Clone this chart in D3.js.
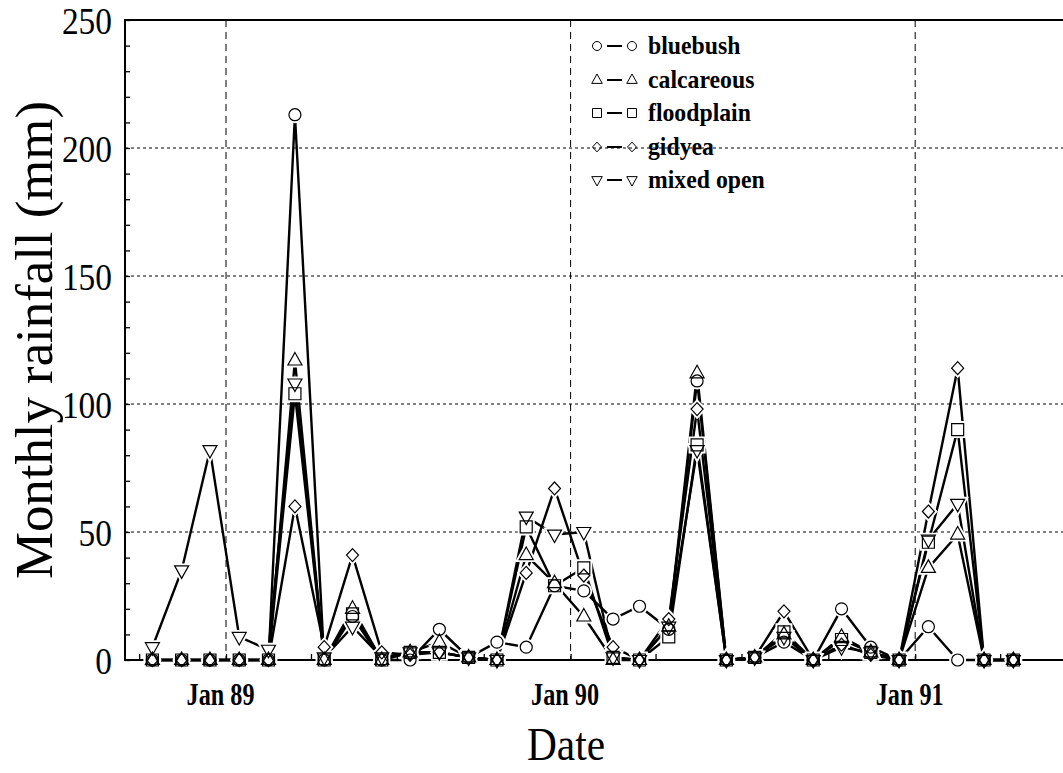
<!DOCTYPE html>
<html><head><meta charset="utf-8">
<script src="https://cdn.jsdelivr.net/npm/d3@7"></script>
<style>body{margin:0;background:#fff} svg{display:block}</style>
</head><body><svg id="c" width="1063" height="773"></svg>
<script>
const months = ["1988-10","1988-11","1988-12","1989-01","1989-02","1989-03","1989-04","1989-05","1989-06","1989-07","1989-08","1989-09",
  "1989-10","1989-11","1989-12","1990-01","1990-02","1990-03","1990-04","1990-05","1990-06","1990-07","1990-08","1990-09",
  "1990-10","1990-11","1990-12","1991-01","1991-02","1991-03","1991-04"];
const bluebush   = [0,0,0,0,0,213,0,17,0,0,12,1,7,5,29,27,16,21,12,109,0,1,7,0,20,5,0,13,0,0,0];
const calcareous = [0,0,0,0,0,117,0,20,0,3,7,1,0,41,30,17,0,0,13,112,0,1,10,0,9,3,0,36,49,0,0];
const floodplain = [0,0,0,0,0,104,0,18,0,3,3,1,0,52,29,36,1,0,9,84,0,1,11,0,8,3,0,46,90,0,0];
const gidyea     = [0,0,0,0,0,60,5,41,3,2,3,1,0,34,67,33,5,0,16,98,0,1,19,0,6,2,0,58,114,0,0];
const mixedOpen  = [5,35,82,9,4,108,1,13,1,3,3,1,0,56,49,50,1,0,13,82,0,1,9,0,5,3,0,47,61,0,0];
const seriesNames = ["bluebush","calcareous","floodplain","gidyea","mixed open"];
const seriesShapes = ["circle","triUp","square","diamond","triDown"];
const yTicks = [0,50,100,150,200,250];
const janTicks = ["1989-01","1990-01","1991-01"];
const janLabels = ["Jan 89","Jan 90","Jan 91"];

const series = [bluebush, calcareous, floodplain, gidyea, mixedOpen].map((v,i)=>({
  name: seriesNames[i], shape: seriesShapes[i], values: v
}));

const svg = d3.select("#c");
const parseM = d3.timeParse("%Y-%m");
const mid = s => d3.timeDay.offset(parseM(s), 14);
const L = 125, T = 20, B = 660, R = 1070;
const x = d3.scaleTime().domain([new Date(1988,8,16), new Date(1991,5,14)]).range([L, R]);
const y = d3.scaleLinear().domain([0,250]).range([B, T]);

function shapePath(kind, s) {
  switch(kind) {
    case "circle": { const r=6*s; return `M${r},0A${r},${r} 0 1,1 ${-r},0A${r},${r} 0 1,1 ${r},0Z`; }
    case "square": { const h=6*s; return `M${-h},${-h}H${h}V${h}H${-h}Z`; }
    case "diamond": { const h=6.5*s, w=6*s; return `M0,${-h}L${w},0L0,${h}L${-w},0Z`; }
    case "triUp": { return `M0,${-8*s}L${7*s},${4.5*s}L${-7*s},${4.5*s}Z`; }
    case "triDown": { return `M0,${8*s}L${7*s},${-4.5*s}L${-7*s},${-4.5*s}Z`; }
  }
}

// gridlines
const grid = svg.append("g");
grid.selectAll("line.h").data(yTicks.filter(v=>v>0 && v<250)).join("line")
  .attr("x1", L).attr("x2", 1063).attr("y1", d=>y(d)).attr("y2", d=>y(d))
  .attr("stroke","#000").attr("stroke-width",1).attr("stroke-dasharray","3,3");
grid.selectAll("line.v").data(janTicks).join("line")
  .attr("x1", d=>x(parseM(d))).attr("x2", d=>x(parseM(d))).attr("y1", T).attr("y2", B)
  .attr("stroke","#000").attr("stroke-width",1).attr("stroke-dasharray","7,5");

// minor ticks
const yAx = svg.append("g").attr("transform",`translate(${L},0)`)
  .call(d3.axisLeft(y).tickValues(d3.range(0,251,10)).tickSizeInner(-5).tickSizeOuter(0).tickFormat(""));
yAx.select(".domain").remove();
yAx.selectAll("line").attr("stroke","#000").attr("stroke-width",1.3);
const xAx = svg.append("g").attr("transform",`translate(0,${B})`)
  .call(d3.axisBottom(x).ticks(d3.timeMonth.every(3)).tickSizeInner(-6).tickSizeOuter(0).tickFormat(""));
xAx.select(".domain").remove();
xAx.selectAll("line").attr("stroke","#000").attr("stroke-width",1.3);

// frame
svg.append("path").attr("d",`M1063,${T}H${L}V${B}H1063`).attr("fill","none")
  .attr("stroke","#000").attr("stroke-width",2);

// y tick labels
const yl = svg.append("g").attr("transform",`translate(${L},0)`)
  .call(d3.axisLeft(y).tickValues(yTicks).tickSize(0).tickPadding(13));
yl.select(".domain").remove();
yl.selectAll("text").attr("font-family","Liberation Serif").attr("font-size",37)
  .attr("fill","#000").attr("dy","0.36em")
  .attr("textLength", d=>String(d).length*16.7).attr("lengthAdjust","spacingAndGlyphs");

// x tick labels
const xl = svg.append("g").attr("transform",`translate(-6,${B})`)
  .call(d3.axisBottom(x).tickValues(janTicks.map(parseM)).tickSize(0).tickPadding(23)
        .tickFormat((d,i)=>janLabels[i]));
xl.select(".domain").remove();
xl.selectAll("text").attr("font-family","Liberation Serif").attr("font-size",31)
  .attr("font-weight","bold").attr("fill","#000")
  .attr("textLength",68).attr("lengthAdjust","spacingAndGlyphs");

// lines
const line = d3.line().x((d,i)=>x(mid(months[i]))).y(d=>y(d));
svg.append("g").selectAll("path").data(series).join("path")
  .attr("d", d=>line(d.values)).attr("fill","none").attr("stroke","#000")
  .attr("stroke-width",2.4).attr("stroke-linejoin","miter");

// marker halos
const pts = series.flatMap(s => s.values.map((v,i)=>({shape:s.shape, x:x(mid(months[i])), y:y(v)})));
svg.append("g").selectAll("path").data(pts).join("path")
  .attr("transform", d=>`translate(${d.x},${d.y})`).attr("d", d=>shapePath(d.shape,1))
  .attr("fill","#fff").attr("stroke","#fff").attr("stroke-width",5);
svg.append("g").selectAll("path").data(pts).join("path")
  .attr("transform", d=>`translate(${d.x},${d.y})`).attr("d", d=>shapePath(d.shape,1))
  .attr("fill","none").attr("stroke","#000").attr("stroke-width",1.2);

// legend
const lg = svg.append("g");
const rowY = [46, 80, 113, 147, 180];
series.forEach((s,i)=>{
  const g = lg.append("g").attr("transform",`translate(0,${rowY[i]})`);
  [597, 632].forEach(px => g.append("path").attr("transform",`translate(${px},0)`)
    .attr("d", shapePath(s.shape,0.75)).attr("fill","none").attr("stroke","#000").attr("stroke-width",1));
  g.append("line").attr("x1",607).attr("x2",622).attr("y1",0).attr("y2",0)
    .attr("stroke","#000").attr("stroke-width",2);
  g.append("text").attr("x",648).attr("y",0).attr("dy","0.32em").text(s.name)
    .attr("font-family","Liberation Serif").attr("font-size",25).attr("font-weight","bold")
    .attr("transform","translate(648,0) scale(0.95,1) translate(-648,0)");
});

// axis titles
svg.append("text").attr("transform","translate(52,340) rotate(-90)").attr("text-anchor","middle")
  .attr("font-family","Liberation Serif").attr("font-size",53)
  .attr("textLength",478).attr("lengthAdjust","spacingAndGlyphs").text("Monthly rainfall (mm)");
svg.append("text").attr("x",566).attr("y",760).attr("text-anchor","middle")
  .attr("font-family","Liberation Serif").attr("font-size",46)
  .attr("textLength",78).attr("lengthAdjust","spacingAndGlyphs").text("Date");
</script></body></html>
